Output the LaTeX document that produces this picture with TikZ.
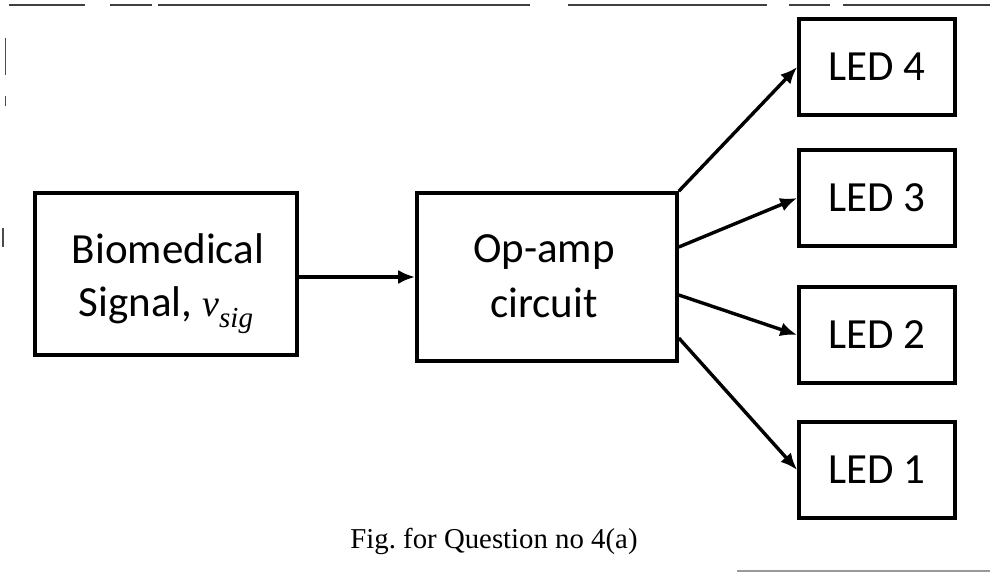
\documentclass[tikz,border=0pt]{standalone}
\usepackage{fontspec}
\setmainfont{Carlito}
\newfontfamily\capfont{Liberation Serif}
\usetikzlibrary{arrows.meta}
\tikzset{
  blockbox/.style={draw=black, line width=3.6pt, rectangle, inner sep=0pt, align=center,
    font=\fontsize{43}{56}\selectfont},
  ledbox/.style={blockbox, minimum width=156pt, minimum height=96pt},
  blocktext/.style={anchor=base, inner sep=0pt, font=\fontsize{43}{56}\selectfont},
  conn/.style={line width=3.4pt, -{Latex[length=17pt,width=14pt]}},
  scanline/.style={line width=1.4pt, draw=black!75}
}
\newcommand{\vsigtxt}{{\capfont\itshape\fontsize{38}{40}\selectfont v\raisebox{-11pt}{\fontsize{29}{30}\selectfont sig}}}
\begin{document}
\begin{tikzpicture}[x=1pt,y=-1pt]
\useasboundingbox (0,0) rectangle (990,572);
% scan border lines
\draw[scanline] (9,5) -- (85,5);
\draw[scanline] (110,5) -- (152,5);
\draw[scanline] (158,5) -- (530,5);
\draw[scanline] (568,5) -- (767,5);
\draw[scanline] (789,5) -- (830,5);
\draw[scanline] (843,5) -- (990,5);
\draw[line width=1pt, draw=black!70] (5,38) -- (5,75);
\draw[line width=1pt, draw=black!70] (5,96) -- (5,106);
\draw[line width=1.2pt, draw=black!70] (3,228) -- (3,247);
\draw[line width=1.2pt, draw=black!40] (737,571) -- (990,571);
% blocks
\node[blockbox, minimum width=262pt, minimum height=162pt] (bio) at (166,274) {};
\node[blocktext] (bioA) at (168,263) {Biomedical};
\node[blocktext] (bioB) at (166,316) {Signal, \vsigtxt};
\node[blockbox, minimum width=260pt, minimum height=168pt] (op) at (547,277) {};
\node[blocktext] (opA) at (544,262) {Op-amp};
\node[blocktext] (opB) at (544,317) {circuit};
\node[ledbox] (led4) at (877,67) {LED 4};
\node[ledbox] (led3) at (877,198) {LED 3};
\node[ledbox] (led2) at (877,335) {LED 2};
\node[ledbox] (led1) at (877,470) {LED 1};
% connectors
\draw[conn] (bio.east |- op.west) -- (op.west);
\draw[conn] (op.north east) -- (led4.west);
\draw[conn] ([yshift=30pt]op.east) -- (led3.west);
\draw[conn] ([yshift=-18pt]op.east) -- (led2.west);
\draw[conn] ([yshift=-61pt]op.east) -- (led1.west);
% caption
\node[anchor=base, font=\capfont\fontsize{28.8}{34}\selectfont] (cap) at (494,548)
  {Fig.\ for Question no 4(a)};
\end{tikzpicture}
\end{document}
